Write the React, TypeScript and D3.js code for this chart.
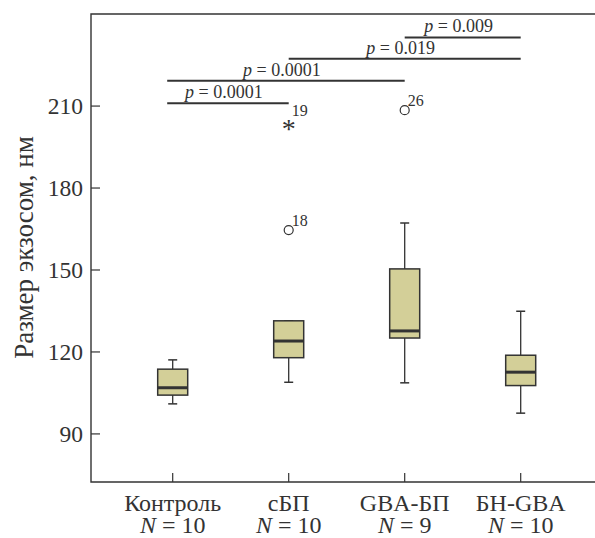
import React from 'react';
import * as d3 from 'd3';

// group labels and sample sizes
const groups = ['Контроль', 'сБП', 'GBA-БП', 'БН-GBA'];
const counts = [10, 10, 9, 10];

// box statistics (nm)
const whiskerLow = [101.0, 108.9, 108.7, 97.6];
const q1 = [104.2, 117.9, 125.1, 107.7];
const median = [106.9, 124.0, 127.7, 112.6];
const q3 = [113.7, 131.4, 150.4, 118.8];
const whiskerHigh = [117.1, 131.4, 167.2, 134.9];

// outliers: group index, value, case number, marker
const outlierGroup = [1, 1, 2];
const outlierValue = [164.6, 203.7, 208.5];
const outlierLabel = ['18', '19', '26'];
const outlierKind = ['circle', 'star', 'circle'];

// pairwise comparisons
const compFrom = [0, 0, 1, 2];
const compTo = [1, 2, 3, 3];
const compP = ['0.0001', '0.0001', '0.019', '0.009'];
const compLevel = [211.0, 219.3, 227.3, 235.1];

const yTicks = [90, 120, 150, 180, 210];

const W = 595;
const H = 538;
const INK = '#333';

export default function App() {
  const left = 91, top = 14, bottom = 482, right = 600;
  const y = d3.scaleLinear().domain([72.4, 243.7]).range([bottom, top]);
  const x = d3.scalePoint<string>().domain(groups).range([172.7, 520.7]);
  const boxW = 30;
  const capW = 4.5;

  return (
    <svg
      width={W}
      height={H}
      style={{ position: 'absolute', left: 0, top: 0, fontFamily: "'Liberation Serif', 'Times New Roman', serif" }}
    >
      <rect width={W} height={H} fill="#fff" />

      {/* frame */}
      <path d={`M${right},${top}H${left}V${bottom}H${right}`} fill="none" stroke={INK} strokeWidth={1.4} />

      {/* y ticks */}
      {yTicks.map((t) => (
        <g key={t}>
          <line x1={left} x2={left + 9} y1={y(t)} y2={y(t)} stroke={INK} strokeWidth={1.2} />
          <text x={83} y={y(t) + 8} textAnchor="end" fontSize={23.5} fill={INK}>{t}</text>
        </g>
      ))}
      <text transform={`translate(33,247.5) rotate(-90)`} textAnchor="middle" fontSize={27} fill={INK}>
        Размер экзосом, нм
      </text>

      {/* x ticks and labels */}
      {groups.map((g, i) => (
        <g key={g}>
          <line x1={x(g)} x2={x(g)} y1={bottom} y2={bottom - 9} stroke={INK} strokeWidth={1.2} />
          <text x={x(g)} y={511} textAnchor="middle" fontSize={24} fill={INK}>{g}</text>
          <text x={x(g)} y={533} textAnchor="middle" fontSize={24} fill={INK}>
            <tspan fontStyle="italic">N</tspan> = {counts[i]}
          </text>
        </g>
      ))}

      {/* boxes */}
      {groups.map((g, i) => {
        const cx = x(g)!;
        return (
          <g key={'b' + g}>
            <line x1={cx} x2={cx} y1={y(whiskerLow[i])} y2={y(q1[i])} stroke={INK} strokeWidth={1.3} />
            <line x1={cx} x2={cx} y1={y(whiskerHigh[i])} y2={y(q3[i])} stroke={INK} strokeWidth={1.3} />
            <line x1={cx - capW} x2={cx + capW} y1={y(whiskerLow[i])} y2={y(whiskerLow[i])} stroke={INK} strokeWidth={1.5} />
            <line x1={cx - capW} x2={cx + capW} y1={y(whiskerHigh[i])} y2={y(whiskerHigh[i])} stroke={INK} strokeWidth={1.5} />
            <rect
              x={cx - boxW / 2}
              y={y(q3[i])}
              width={boxW}
              height={y(q1[i]) - y(q3[i])}
              fill="#d3cf98"
              stroke={INK}
              strokeWidth={1.5}
            />
            <line x1={cx - boxW / 2} x2={cx + boxW / 2} y1={y(median[i])} y2={y(median[i])} stroke={INK} strokeWidth={3} />
          </g>
        );
      })}

      {/* outliers */}
      {outlierValue.map((v, i) => {
        const cx = x(groups[outlierGroup[i]])!;
        const cy = y(v);
        return (
          <g key={'o' + i}>
            {outlierKind[i] === 'circle' ? (
              <circle cx={cx} cy={cy} r={4.5} fill="none" stroke={INK} strokeWidth={1.2} />
            ) : (
              <text x={cx} y={cy + 15} textAnchor="middle" fontSize={28} fill={INK}>*</text>
            )}
            <text x={cx + 3} y={cy - (outlierKind[i] === 'circle' ? 4 : 7)} fontSize={16} fill={INK}>
              {outlierLabel[i]}
            </text>
          </g>
        );
      })}

      {/* significance bars */}
      {compP.map((p, i) => {
        const x1 = x(groups[compFrom[i]])! - (compFrom[i] === 0 ? 5.5 : 0);
        const x2 = x(groups[compTo[i]])!;
        const ly = y(compLevel[i]);
        return (
          <g key={'c' + i}>
            <line x1={x1} x2={x2} y1={ly} y2={ly} stroke={INK} strokeWidth={2} />
            <text x={(x1 + x2) / 2 - 4} y={ly - 5} textAnchor="middle" fontSize={18} fill={INK}>
              <tspan fontStyle="italic">p</tspan> = {p}
            </text>
          </g>
        );
      })}
    </svg>
  );
}
